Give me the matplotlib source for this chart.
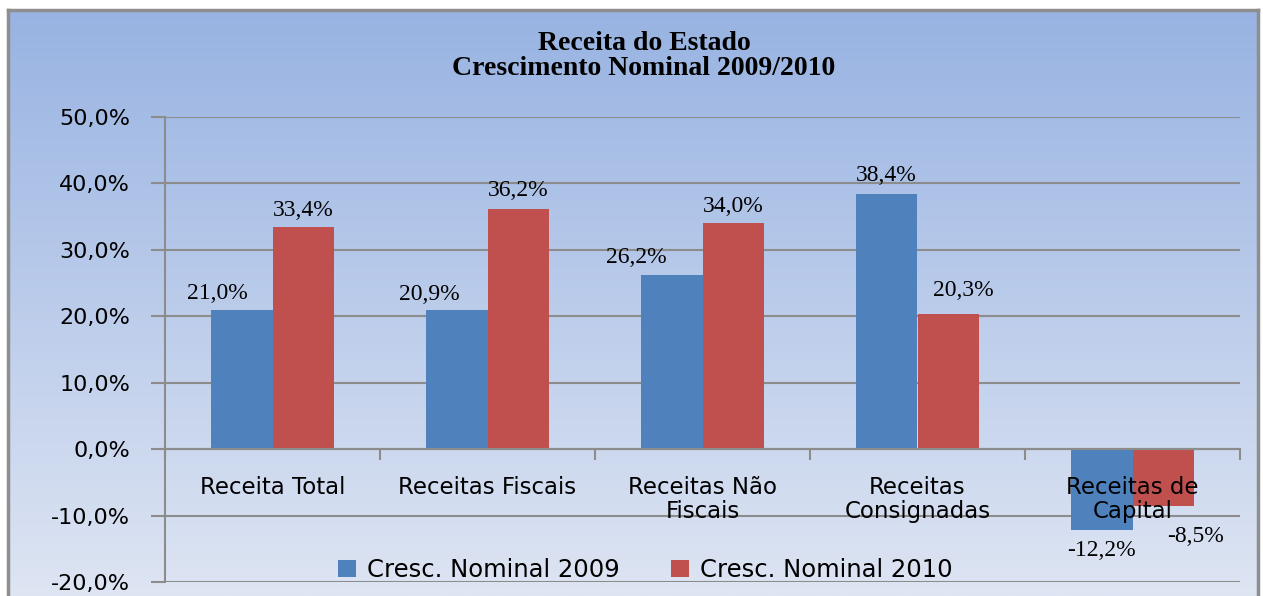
import numpy as np
import matplotlib
matplotlib.use("Agg")
import matplotlib.pyplot as plt
from matplotlib.colors import LinearSegmentedColormap

# data
categories = ["Receita Total", "Receitas Fiscais", "Receitas Não\nFiscais",
              "Receitas\nConsignadas", "Receitas de\nCapital"]
cresc_2009 = [21.0, 20.9, 26.2, 38.4, -12.2]
cresc_2010 = [33.4, 36.2, 34.0, 20.3, -8.5]
series_names = ["Cresc. Nominal 2009", "Cresc. Nominal 2010"]

# label nudges in pixels (Excel moved some labels to avoid overlaps)
dx_2009 = [-24, -27, -35, 0, 0]
dx_2010 = [0, 0, 0, 15, 32]
dy_2009 = [16, 16, 18, 19, -20]
dy_2010 = [17, 18, 17, 24, -31]

blue = "#4F81BD"
red = "#C0504D"
grid_col = "#8C8C8C"

W, H = 1263, 596
fig = plt.figure(figsize=(W / 100, H / 100), dpi=100)
fig.patch.set_facecolor("white")

# chart area with gradient background
bg = fig.add_axes([8 / W, 0, 1250 / W, 586 / H])
cmap = LinearSegmentedColormap.from_list("bg", ["#98B3E2", "#DEE5F3"])
grad = np.linspace(0, 1, 256).reshape(-1, 1)
bg.imshow(grad, aspect="auto", cmap=cmap, extent=[0, 1, 0, 1], origin="upper")
bg.set_xticks([])
bg.set_yticks([])
for s in ["left", "right", "top"]:
    bg.spines[s].set_color("#8E8E8E")
    bg.spines[s].set_linewidth(2.5)
bg.spines["bottom"].set_visible(False)
bg.set_zorder(0)

fig.text(644 / W, 1 - 56 / H, "Receita do Estado\nCrescimento Nominal 2009/2010",
         ha="center", va="center", fontsize=20, fontweight="bold",
         family="Liberation Serif", linespacing=0.97)

ax = fig.add_axes([165 / W, 1 - 582 / H, 1075 / W, 465 / H])
ax.set_zorder(1)
ax.patch.set_alpha(0)

x = np.arange(len(categories))
w = 0.288
ax.bar(x - w / 2, cresc_2009, w, color=blue, label=series_names[0], zorder=2)
ax.bar(x + w / 2, cresc_2010, w, color=red, label=series_names[1], zorder=2)

def fmt(v):
    return f"{v:.1f}%".replace(".", ",")

yt = np.arange(-20, 51, 10)
ax.set_xlim(-0.5, len(categories) - 0.5)
ax.set_ylim(-20, 50)
ax.set_yticks(yt)
ax.set_yticklabels([fmt(v) for v in yt], fontsize=16)
ax.yaxis.grid(True, color=grid_col, linewidth=1.5)
ax.set_axisbelow(True)
ax.tick_params(axis="y", length=10, width=1.5, color=grid_col, pad=15)

ax.spines["bottom"].set_position(("data", 0))
ax.spines["bottom"].set_color(grid_col)
ax.spines["bottom"].set_linewidth(1.5)
ax.spines["left"].set_color(grid_col)
ax.spines["left"].set_linewidth(1.5)
ax.spines["right"].set_visible(False)
ax.spines["top"].set_visible(False)
ax.set_xticks(np.arange(-0.5, len(categories), 1))
ax.set_xticklabels([])
ax.tick_params(axis="x", length=8, width=1.5, color=grid_col, direction="out")

# category labels drawn over bars
for i, c in enumerate(categories):
    ax.annotate(c, (i, 0), xytext=(0, -27), textcoords="offset pixels",
                ha="center", va="top", fontsize=16.5, linespacing=1.05, zorder=5)

for vals, dxs, dys, off in [(cresc_2009, dx_2009, dy_2009, -w / 2),
                            (cresc_2010, dx_2010, dy_2010, w / 2)]:
    for i, v in enumerate(vals):
        ax.annotate(fmt(v), (i + off, v), xytext=(dxs[i], dys[i]),
                    textcoords="offset pixels", ha="center", va="center",
                    fontsize=17, family="Liberation Serif", zorder=5)

ax.legend(loc="center", bbox_to_anchor=(0.447, 0.026), ncol=2, frameon=False,
          fontsize=17.5, handlelength=0.75, handleheight=0.75, handletextpad=0.45,
          columnspacing=2.1, borderpad=0)

fig.savefig("out.png", dpi=100)
